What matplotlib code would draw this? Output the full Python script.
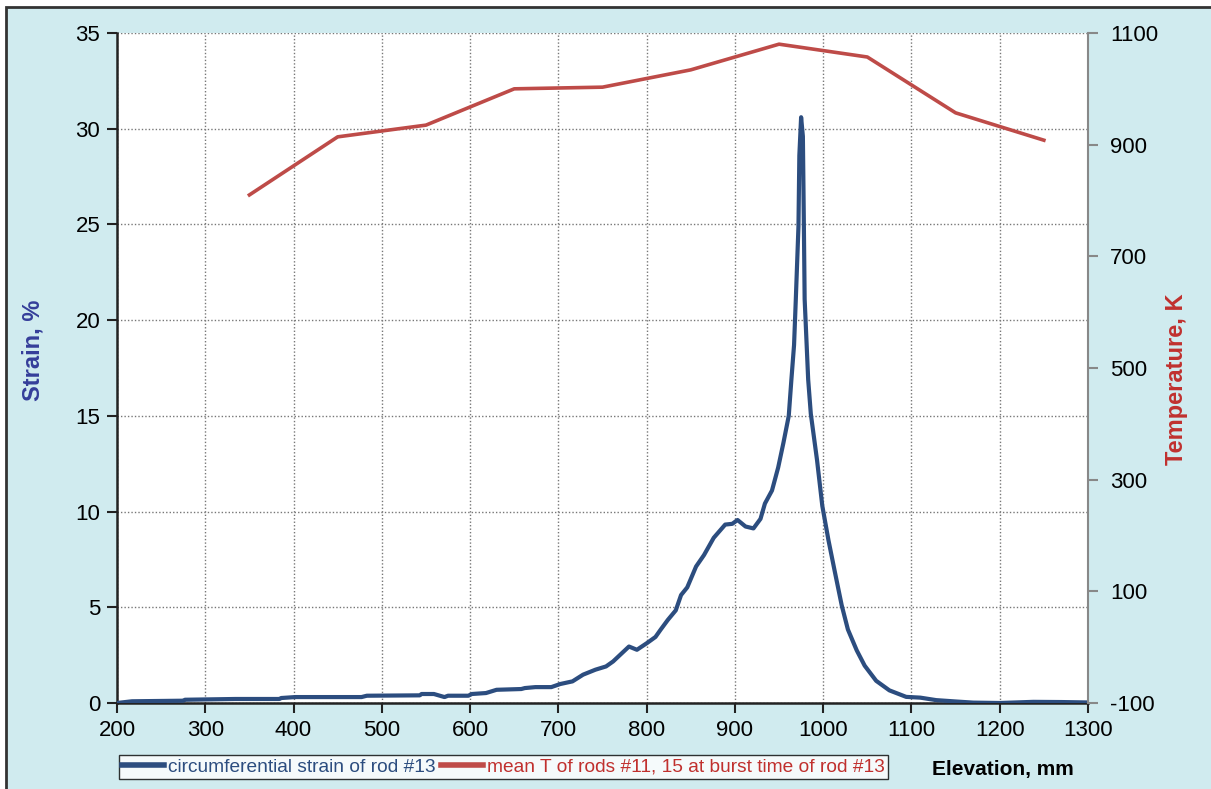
import matplotlib
matplotlib.use("Agg")
import matplotlib.pyplot as plt
from matplotlib.patches import Rectangle
from matplotlib.lines import Line2D

plt.rcParams['font.family'] = ['Liberation Sans', 'DejaVu Sans']
plt.rcParams['axes.unicode_minus'] = False

strain_x = [200, 217, 275, 277, 334, 384, 386, 402, 477, 483, 543, 545, 559, 571, 575,
            598, 602, 618, 630, 658, 662, 674, 692, 702, 716, 728, 742, 754, 762, 768,
            780, 789, 801, 810, 816, 824, 833, 839, 846, 856, 865, 876, 889, 897, 903,
            912, 921, 929, 934, 942, 949, 955, 961, 964, 967, 969, 972, 973, 975, 977,
            978, 979, 983, 986, 993, 999, 1006, 1013, 1021, 1028, 1038, 1047, 1060, 1075,
            1094, 1110, 1128, 1150, 1170, 1200, 1238, 1270, 1298]
strain_y = [0.00, 0.09, 0.12, 0.17, 0.21, 0.21, 0.26, 0.31, 0.31, 0.38, 0.40, 0.47, 0.47, 0.31, 0.38,
            0.38, 0.47, 0.52, 0.69, 0.73, 0.78, 0.83, 0.83, 0.99, 1.13, 1.48, 1.74, 1.91, 2.17, 2.43,
            2.95, 2.78, 3.15, 3.45, 3.84, 4.34, 4.84, 5.64, 6.04, 7.13, 7.73, 8.63, 9.32, 9.36, 9.56,
            9.22, 9.12, 9.62, 10.42, 11.1, 12.3, 13.6, 15.0, 16.9, 18.7, 21.1, 24.9, 28.6, 30.6, 29.6,
            25.5, 21.1, 16.9, 15.1, 12.7, 10.3, 8.5, 6.9, 5.1, 3.84, 2.75, 1.95, 1.16, 0.66,
            0.32, 0.28, 0.15, 0.08, 0.02, 0.00, 0.06, 0.05, 0.03]

# Mean temperature of rods #11, 15
temp_x = [350, 450, 550, 650, 750, 850, 950, 1050, 1150, 1250]
temp_y = [810, 914, 935, 1000, 1003, 1034, 1080, 1057, 957, 908]

x_ticks = list(range(200, 1301, 100))
left_ticks = list(range(0, 36, 5))
right_ticks = list(range(-100, 1101, 200))

BLUE = '#2C4D7F'
RED = '#BE4B48'
BG = '#D0EBEF'

fig = plt.figure(figsize=(12.11, 7.89), dpi=100, facecolor='white')
fig.patches.append(Rectangle((6/1211, -0.02), 1.05, 1 - 7/789 + 0.02, transform=fig.transFigure,
                             facecolor=BG, edgecolor='#333333', linewidth=2, zorder=-10))

ax = fig.add_axes([117/1211, 1 - 703/789, (1088 - 117)/1211, (703 - 33)/789])
ax.set_facecolor('white')
ax2 = ax.twinx()

ax.plot(strain_x, strain_y, color=BLUE, lw=3.0, solid_joinstyle='round', zorder=3)
ax2.plot(temp_x, temp_y, color=RED, lw=2.6, zorder=3)

ax.set_xlim(200, 1300)
ax.set_ylim(0, 35)
ax2.set_ylim(-100, 1100)
ax.set_xticks(x_ticks)
ax.set_yticks(left_ticks)
ax2.set_yticks(right_ticks)

ax.grid(True, color='#777777', linestyle=(0, (1, 1.5)), linewidth=1.0)
ax.set_axisbelow(True)

ax.spines['top'].set_visible(False)
ax2.spines['top'].set_visible(False)
ax.spines['left'].set_color('#222222')
ax.spines['left'].set_linewidth(1.8)
ax.spines['bottom'].set_color('#222222')
ax.spines['bottom'].set_linewidth(1.8)
ax.spines['right'].set_visible(False)
ax2.spines['left'].set_visible(False)
ax2.spines['bottom'].set_visible(False)
ax2.spines['right'].set_color('#888888')
ax2.spines['right'].set_linewidth(1.5)

ax.tick_params(axis='both', direction='out', length=7, width=1.5, color='#222222',
               labelsize=16, pad=5)
ax2.tick_params(axis='y', direction='out', length=7, width=1.5, color='#888888',
                labelsize=16, pad=9)

fig.text(33/1211, 1 - 350/789, 'Strain, %', color='#353E9A', fontsize=17, fontweight='bold',
         rotation=90, ha='center', va='center')
fig.text(1177/1211, 1 - 379/789, 'Temperature, K', color='#C0302E', fontsize=17,
         fontweight='bold', rotation=90, ha='center', va='center')

handles = [Line2D([], [], color=BLUE, lw=4), Line2D([], [], color=RED, lw=4)]
labels = ['circumferential strain of rod #13', 'mean T of rods #11, 15 at burst time of rod #13']
leg = fig.legend(handles, labels, loc='center left', bbox_to_anchor=(119/1211, 1 - 767/789),
                 ncol=2, frameon=True, fancybox=False, fontsize=13.8, handlelength=2.2,
                 handletextpad=0.2, columnspacing=0.3, borderpad=0.15, borderaxespad=0)
leg.get_frame().set_edgecolor('black')
leg.get_frame().set_linewidth(1.0)
leg.get_texts()[0].set_color(BLUE)
leg.get_texts()[1].set_color('#C0302E')

fig.text(1003/1211, 1 - 770/789, 'Elevation, mm', ha='center', va='center',
         fontsize=15, fontweight='bold', color='black')

fig.savefig('out.png', dpi=100, facecolor='white')
